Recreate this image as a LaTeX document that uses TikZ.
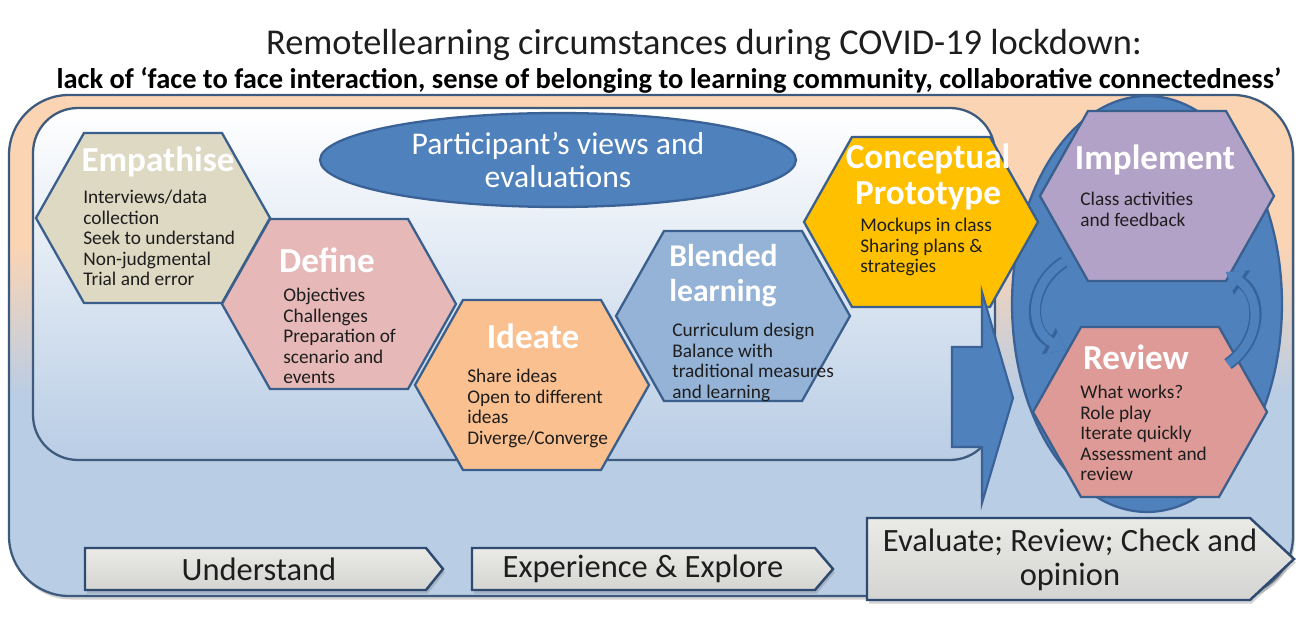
\documentclass[tikz,border=0pt]{standalone}
\usepackage{fontspec}
\setmainfont{Carlito}
\usepackage{xcolor}
\usepackage{tikz}
\definecolor{peach}{HTML}{FBD4B4}
\definecolor{paleblue}{HTML}{B9CDE5}
\definecolor{frameline}{HTML}{3E5A7C}
\definecolor{hexline}{HTML}{3A5F8C}
\definecolor{accentblue}{HTML}{4F81BD}
\definecolor{accentedge}{HTML}{3A6296}
\definecolor{arcedge}{HTML}{36639A}
\definecolor{empfill}{HTML}{DDD9C3}
\definecolor{deffill}{HTML}{E6B9B8}
\definecolor{ideafill}{HTML}{FAC090}
\definecolor{blendfill}{HTML}{95B3D7}
\definecolor{protofill}{HTML}{FFC000}
\definecolor{implfill}{HTML}{B3A2C7}
\definecolor{revfill}{HTML}{DE9A96}
\definecolor{stagetop}{HTML}{EAEAE7}
\definecolor{stagebot}{HTML}{D4D4D2}
\definecolor{stageline}{HTML}{2E4A70}
\definecolor{bodytext}{HTML}{1E1E1E}
\usetikzlibrary{shapes, arrows.meta, positioning, calc, shadows}
\pgfdeclareverticalshading{framefade}{100bp}{color(0bp)=(paleblue); color(25bp)=(paleblue);
    color(45bp)=(paleblue); color(60bp)=(peach); color(75bp)=(peach); color(100bp)=(peach)}

\begin{document}
\begin{tikzpicture}[x=0.02cm, y=-0.02cm,
    hexa/.pic={\draw[pic actions] (-117,0) -- (-69,-85) -- (69,-85) -- (117,0) -- (69,85) -- (-69,85) -- cycle;},
    hexcell/.style={draw=hexline, line width=1.3pt},
    hextitle/.style={inner sep=0pt, align=center, text=white, font=\fontsize{20}{20}\selectfont\bfseries},
    hexbody/.style={anchor=north west, inner sep=0pt, align=left, text=bodytext, font=\fontsize{11}{11.7}\selectfont},
    oval/.style={ellipse, draw=accentedge, fill=accentblue, line width=1.3pt, inner sep=0pt},
    stagebox/.style={draw=stageline, line width=1.4pt, top color=stagetop, bottom color=stagebot,
        drop shadow={shadow xshift=1pt, shadow yshift=-2pt, opacity=0.35}},
    stagetext/.style={inner sep=0pt, align=center, text=bodytext, font=\fontsize{18.5}{19}\selectfont},
    cyclearc/.style={line width=5pt, accentblue, -{Triangle[width=13pt,length=9pt]},
        preaction={draw=arcedge, line width=7pt, -{Triangle[width=16pt,length=11pt]}}}
]
    \useasboundingbox (0,0) rectangle (1296,624);

    % frames
    \shade[shading=framefade, draw=frameline, line width=1.3pt, rounded corners=1.2cm,
        drop shadow={shadow xshift=1pt, shadow yshift=-2pt, opacity=0.35}] (9,95) rectangle (1293,596);
    \shade[top color=white, bottom color=paleblue, draw=frameline, line width=1.3pt, rounded corners=0.9cm]
        (33,108) rectangle (995,460);

    % headings
    \node[text=bodytext, font=\fontsize{20.7}{21}\selectfont] (title) at (704,45)
        {Remotellearning circumstances during COVID-19 lockdown:};
    \node[text=black, font=\fontsize{16.2}{16}\selectfont\bfseries] (subtitle) at (669,80)
        {lack of ‘face to face interaction, sense of belonging to learning community, collaborative connectedness’};

    % cycle ellipse and views
    \node[oval, minimum width=5.4cm, minimum height=8.32cm] (loop) at (1147,304) {};
    \node[oval, minimum width=9.52cm, minimum height=1.88cm, text=white, align=center,
        font=\fontsize{18}{19}\selectfont] (views) at (558,160) {Participant’s views and\\evaluations};

    % hexagons
    \pic[hexcell, fill=empfill] at (153,218) {hexa};
    \pic[hexcell, fill=deffill] at (339,304) {hexa};
    \pic[hexcell, fill=ideafill] at (532,385) {hexa};
    \pic[hexcell, fill=blendfill] at (733,316) {hexa};
    \pic[hexcell, fill=protofill] at (921,222) {hexa};

    % block arrow into the cycle
    \draw[fill=accentblue, draw=accentedge, line width=1.2pt] (952,347) -- (982,347) -- (982,292) -- (1013,398)
        -- (982,503) -- (982,447) -- (952,447) -- cycle;

    \pic[hexcell, fill=implfill] at (1157,196) {hexa};
    \pic[hexcell, fill=revfill] at (1150,412) {hexa};

    \coordinate (lt) at (1064,262);
    \coordinate (lb) at (1066,350);
    \coordinate (rt) at (1226,272);
    \coordinate (rb) at (1228,364);
    \draw[cyclearc] (lt) .. controls (1028,285) and (1028,330) .. (lb);
    \draw[cyclearc] (rb) .. controls (1262,340) and (1262,296) .. (rt);

    % hexagon texts
    \node[hextitle] (empT) at (158,162) {Empathise};
    \node[hexbody] (empB) at (83,190) {Interviews/data\\collection\\Seek to understand\\Non-judgmental\\Trial and error};
    \node[hextitle] (defT) at (327,260) {Define};
    \node[hexbody] (defB) at (283,288) {Objectives\\Challenges\\Preparation of\\scenario and\\events};
    \node[hextitle] (ideaT) at (533,336) {Ideate};
    \node[hexbody] (ideaB) at (467,369) {Share ideas\\Open to different\\ideas\\Diverge/Converge};
    \node[hextitle, anchor=north west, align=left, font=\fontsize{18}{20}\selectfont\bfseries] (blendT) at (669,244) {Blended\\learning};
    \node[hexbody] (blendB) at (672,323) {Curriculum design\\Balance with\\traditional measures\\and learning};
    \node[hextitle] (protoT) at (928,177) {Conceptual\\Prototype};
    \node[hexbody] (protoB) at (860,218) {Mockups in class\\Sharing plans \&\\strategies};
    \node[hextitle] (implT) at (1155,160) {Implement};
    \node[hexbody] (implB) at (1080,192) {Class activities\\and feedback};
    \node[hextitle] (revT) at (1136,357) {Review};
    \node[hexbody] (revB) at (1080,385) {What works?\\Role play\\Iterate quickly\\Assessment and\\review};

    % stages
    \draw[stagebox] (85,548) -- (426,548) -- (443,569) -- (426,590) -- (85,590) -- cycle;
    \node[stagetext] (und) at (259,569) {Understand};
    \draw[stagebox] (472,548) -- (815,548) -- (833,569) -- (815,590) -- (472,590) -- cycle;
    \node[stagetext] (exp) at (643,569) {Experience \& Explore};
    \draw[stagebox] (867,518) -- (1250,518) -- (1294,559) -- (1250,600) -- (867,600) -- cycle;
    \node[stagetext] (eval) at (1070,560) {Evaluate; Review; Check and\\opinion};
\end{tikzpicture}
\end{document}
